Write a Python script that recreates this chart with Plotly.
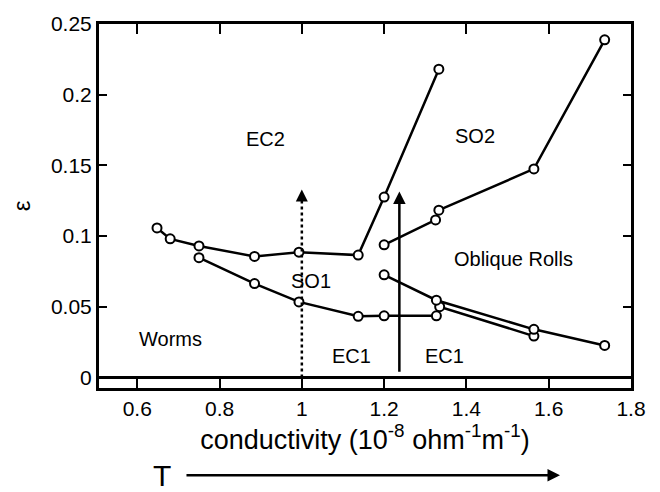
import plotly.graph_objects as go

# Boundary curves (conductivity, epsilon)
so1_upper_x = [0.648, 0.680, 0.750, 0.885, 0.993, 1.137, 1.200, 1.333]
so1_upper_y = [0.1057, 0.0980, 0.0930, 0.0856, 0.0886, 0.0865, 0.1276, 0.2180]

so1_lower_x = [0.750, 0.885, 0.993, 1.137, 1.200, 1.327, 1.335, 1.564]
so1_lower_y = [0.0847, 0.0664, 0.0534, 0.0432, 0.0436, 0.0436, 0.0500, 0.0292]

so2_lower_x = [1.200, 1.325, 1.333, 1.564, 1.736]
so2_lower_y = [0.0938, 0.1114, 0.1183, 0.1475, 0.2388]

oblique_lower_x = [1.200, 1.327, 1.564, 1.736]
oblique_lower_y = [0.0726, 0.0546, 0.0340, 0.0226]

# Arrows inside the plot (x, y_start, y_end)
dotted_arrow = [1.0, 0.0, 0.133]
solid_arrow = [1.237, 0.003, 0.1315]

# Region labels
label_text = ["EC2", "SO2", "Oblique Rolls", "SO1", "Worms", "EC1", "EC1"]
label_x = [0.912, 1.420, 1.515, 1.022, 0.680, 1.120, 1.346]
label_y = [0.169, 0.1705, 0.0836, 0.0685, 0.0274, 0.0150, 0.0150]

xticks = [0.6, 0.8, 1.0, 1.2, 1.4, 1.6, 1.8]
xticklabels = ["0.6", "0.8", "1", "1.2", "1.4", "1.6", "1.8"]
yticks = [0, 0.05, 0.1, 0.15, 0.2, 0.25]
yticklabels = ["0", "0.05", "0.1", "0.15", "0.2", "0.25"]

FONT = "Liberation Sans, Arial, sans-serif"

fig = go.Figure()

marker = dict(symbol="circle", size=9, color="white", line=dict(color="black", width=2))
for xs, ys in [(so1_upper_x, so1_upper_y), (so1_lower_x, so1_lower_y),
               (so2_lower_x, so2_lower_y), (oblique_lower_x, oblique_lower_y)]:
    fig.add_trace(go.Scatter(x=xs, y=ys, mode="lines+markers",
                             line=dict(color="black", width=2.5),
                             marker=marker, showlegend=False))

# dotted arrow shaft
fig.add_trace(go.Scatter(x=[dotted_arrow[0], dotted_arrow[0]],
                         y=[dotted_arrow[1], dotted_arrow[2] - 0.006],
                         mode="lines", line=dict(color="black", width=2.5, dash="dot"),
                         showlegend=False))
# dotted arrow head
fig.add_annotation(x=dotted_arrow[0], y=dotted_arrow[2], ax=dotted_arrow[0],
                   ay=dotted_arrow[2] - 0.008, xref="x", yref="y", axref="x", ayref="y",
                   showarrow=True, arrowhead=2, arrowsize=1.2, arrowwidth=2,
                   arrowcolor="black", text="")
# solid arrow
fig.add_annotation(x=solid_arrow[0], y=solid_arrow[2], ax=solid_arrow[0],
                   ay=solid_arrow[1], xref="x", yref="y", axref="x", ayref="y",
                   showarrow=True, arrowhead=2, arrowsize=1.0, arrowwidth=2.5,
                   arrowcolor="black", text="")

for t, lx, ly in zip(label_text, label_x, label_y):
    fig.add_annotation(x=lx, y=ly, xref="x", yref="y", text=t, showarrow=False,
                       font=dict(family=FONT, size=20, color="black"))

# T arrow below the chart
fig.add_annotation(x=0.8665, y=-0.2394, xref="paper", yref="paper",
                   ax=-375, ay=0, axref="pixel", ayref="pixel",
                   showarrow=True, arrowhead=2, arrowsize=1.0, arrowwidth=2.5,
                   arrowcolor="black", text="")
fig.add_annotation(x=(162 - 99) / 532, y=(388 - 478) / 376, xref="paper", yref="paper",
                   xanchor="center", yanchor="middle",
                   text="T", showarrow=False,
                   font=dict(family=FONT, size=30, color="black"))

fig.update_layout(
    width=660, height=492,
    margin=dict(l=99, r=29, t=12, b=104),
    paper_bgcolor="white", plot_bgcolor="white",
    font=dict(family=FONT, color="black"),
    xaxis=dict(range=[0.507, 1.8], tickvals=xticks, ticktext=xticklabels,
               showgrid=False, zeroline=False, showline=True, linewidth=3,
               linecolor="black", mirror="ticks", ticks="inside", ticklen=10,
               tickwidth=2, tickcolor="black", tickfont=dict(size=21),
               title=dict(text="conductivity (10<sup>-8</sup> ohm<sup>-1</sup>m<sup>-1</sup>)",
                          font=dict(size=27), standoff=5)),
    yaxis=dict(range=[-0.0075, 0.25], tickvals=yticks, ticktext=yticklabels,
               showgrid=False, zeroline=True, zerolinewidth=3, zerolinecolor="black",
               showline=True, linewidth=3, linecolor="black", mirror="ticks",
               ticks="inside", ticklen=8, tickwidth=2, tickcolor="black",
               tickfont=dict(size=21),
               title=dict(text="ε", font=dict(size=24), standoff=14)),
)

fig.write_html("out.html")
